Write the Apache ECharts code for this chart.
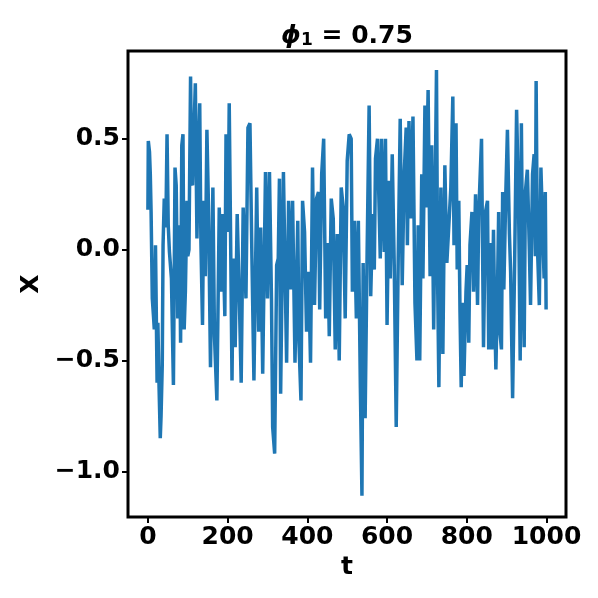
<!DOCTYPE html>
<html>
<head>
<meta charset="utf-8">
<script src="https://cdn.jsdelivr.net/npm/echarts@6/dist/echarts.min.js"></script>
<style>
  html, body { margin: 0; padding: 0; background: #fff; }
  #main { width: 598px; height: 598px; }
</style>
</head>
<body>
<div id="main"></div>
<script>
// time steps and values (peaks/troughs of the AR(1) path)
const tSteps = [
  0, 1, 4, 6, 8, 11, 14, 16, 19, 21, 23, 25, 28, 31, 33, 36, 38, 41, 45, 48,
  51, 54, 59, 64, 68, 71, 75, 79, 82, 85, 88, 91, 94, 98, 100, 103, 107, 110, 112, 115,
  119, 123, 127, 130, 133, 137, 140, 144, 148, 152, 157, 163, 167, 173, 179, 184, 187, 193, 196, 201,
  204, 208, 211, 214, 219, 224, 229, 234, 239, 246, 251, 256, 261, 266, 273, 278, 283, 288, 295, 300,
  305, 310, 313, 318, 323, 327, 330, 333, 340, 345, 348, 353, 358, 363, 369, 376, 379, 384, 388, 393,
  398, 403, 408, 413, 418, 423, 428, 431, 436, 441, 446, 451, 455, 460, 465, 470, 475, 480, 485, 490,
  495, 500, 505, 510, 513, 518, 523, 528, 533, 537, 540, 545, 550, 555, 558, 559, 564, 568, 571, 576,
  583, 586, 593, 596, 600, 605, 608, 613, 618, 623, 628, 633, 638, 643, 648, 651, 655, 660, 665, 670,
  675, 678, 682, 687, 690, 695, 698, 703, 708, 712, 717, 724, 727, 730, 735, 740, 745, 750, 755, 760,
  765, 768, 773, 776, 780, 783, 786, 790, 793, 798, 801, 805, 808, 813, 817, 822, 827, 830, 837, 842,
  847, 852, 855, 860, 863, 867, 870, 873, 877, 880, 883, 887, 890, 893, 898, 902, 907, 910, 915, 920,
  925, 930, 934, 937, 940, 944, 947, 952, 957, 960, 965, 969, 972, 974, 977, 982, 986, 991, 994, 997,
  999
];
const xValues = [
  0.18, 0.49, 0.44, 0.34, 0.17, -0.22, -0.30, -0.36, 0.02, -0.28, -0.60, -0.33, -0.62, -0.85, -0.75, -0.52, 0.02, 0.23, 0.10, 0.52,
  0.11, -0.01, -0.13, -0.61, 0.37, 0.29, -0.31, 0.11, -0.42, 0.47, 0.52, -0.36, -0.19, 0.22, -0.03, 0.00, 0.78, 0.30, 0.29, 0.50,
  0.75, 0.05, 0.45, 0.66, 0.03, -0.34, 0.22, -0.12, 0.54, 0.19, -0.53, 0.28, -0.39, -0.68, 0.19, -0.19, 0.16, -0.30, 0.52, 0.08,
  0.66, -0.04, -0.59, -0.04, -0.44, 0.16, -0.19, -0.60, 0.19, -0.22, 0.55, 0.57, -0.04, -0.59, 0.28, -0.37, 0.10, -0.56, 0.35, -0.22,
  0.35, -0.22, -0.80, -0.92, -0.07, -0.04, 0.32, -0.65, 0.35, 0.35, -0.51, 0.22, -0.18, 0.22, -0.51, 0.13, -0.42, -0.68, 0.22, 0.08,
  -0.37, -0.10, -0.51, 0.37, -0.25, 0.23, 0.26, -0.27, 0.34, 0.50, -0.31, 0.03, -0.39, 0.23, 0.14, -0.45, 0.07, -0.50, 0.28, 0.19,
  -0.31, 0.40, 0.52, 0.50, -0.19, 0.13, -0.31, 0.13, -0.62, -1.11, -0.06, -0.76, -0.01, 0.65, 0.07, -0.21, 0.16, -0.09, 0.41, 0.50,
  -0.04, 0.50, -0.01, 0.50, -0.34, 0.31, -0.13, 0.43, -0.07, -0.80, -0.04, 0.59, -0.16, 0.34, 0.55, 0.02, 0.58, 0.14, 0.60, -0.24,
  -0.50, 0.11, -0.50, 0.34, -0.13, 0.65, 0.19, 0.72, -0.12, 0.47, -0.36, 0.81, -0.16, -0.62, 0.28, -0.47, 0.38, -0.06, -0.06, 0.28,
  0.69, 0.02, 0.57, -0.09, 0.22, -0.28, -0.62, -0.24, -0.57, -0.19, -0.07, -0.42, 0.02, 0.17, -0.19, 0.25, -0.25, 0.16, 0.50, -0.44,
  0.17, 0.22, -0.45, 0.03, -0.45, 0.09, -0.28, -0.54, -0.19, 0.17, -0.37, -0.45, 0.26, -0.18, 0.26, 0.54, 0.07, -0.10, -0.67, -0.07,
  0.63, 0.20, -0.50, 0.57, -0.04, -0.44, 0.26, 0.36, 0.00, -0.25, 0.34, 0.43, -0.03, 0.76, 0.03, -0.25, 0.37, 0.37, -0.13, 0.26,
  -0.27
];
const xTicks = [0, 200, 400, 600, 800, 1000];
const yTicks = [-1.0, -0.5, 0.0, 0.5];

const font = 'DejaVu Sans';
const seriesData = tSteps.map(function (t, i) { return [t, xValues[i]]; });

const chart = echarts.init(document.getElementById('main'));
chart.setOption({
  animation: false,
  backgroundColor: '#fff',
  title: {
    text: '{phi|ϕ}{sub|1}{eq| = 0.75}',
    left: 342,
    top: 16,
    textAlign: 'center',
    textStyle: {
      rich: {
        phi: { fontFamily: font, fontSize: 25, fontWeight: 'bold', fontStyle: 'italic', color: '#000', verticalAlign: 'bottom', lineHeight: 28 },
        sub: { fontFamily: font, fontSize: 17, fontWeight: 'bold', color: '#000', verticalAlign: 'bottom', lineHeight: 22 },
        eq: { fontFamily: font, fontSize: 25, fontWeight: 'bold', color: '#000', verticalAlign: 'bottom', lineHeight: 28 }
      }
    }
  },
  grid: {
    left: 128, right: 32, top: 51, bottom: 81,
    show: true, borderColor: '#000', borderWidth: 3, backgroundColor: '#fff'
  },
  xAxis: {
    type: 'value',
    min: -49.95, max: 1048.95,
    name: 't', nameLocation: 'middle', nameGap: 30,
    nameTextStyle: { fontFamily: font, fontSize: 25, fontWeight: 'bold', color: '#000' },
    axisLine: { show: false, onZero: false },
    splitLine: { show: false },
    axisTick: { show: true, customValues: xTicks, length: 6, lineStyle: { color: '#000', width: 2 } },
    axisLabel: {
      customValues: xTicks, margin: 8,
      fontFamily: font, fontSize: 25, fontWeight: 'bold', color: '#000',
      formatter: function (v) { return String(v); }
    }
  },
  yAxis: {
    type: 'value',
    min: -1.2055, max: 0.8955,
    name: 'X', nameLocation: 'middle', nameGap: 83,
    nameTextStyle: { fontFamily: font, fontSize: 25, fontWeight: 'bold', color: '#000' },
    axisLine: { show: false, onZero: false },
    splitLine: { show: false },
    axisTick: { show: true, customValues: yTicks, length: 6, lineStyle: { color: '#000', width: 2 } },
    axisLabel: {
      customValues: yTicks, margin: 8,
      fontFamily: font, fontSize: 25, fontWeight: 'bold', color: '#000',
      formatter: function (v) { return v.toFixed(1).replace('-', '\u2212'); }
    }
  },
  series: [{
    type: 'line',
    data: seriesData,
    showSymbol: false,
    symbol: 'none',
    lineStyle: { color: '#1f77b4', width: 3.5 },
    z: 1
  }]
});
</script>
</body>
</html>
